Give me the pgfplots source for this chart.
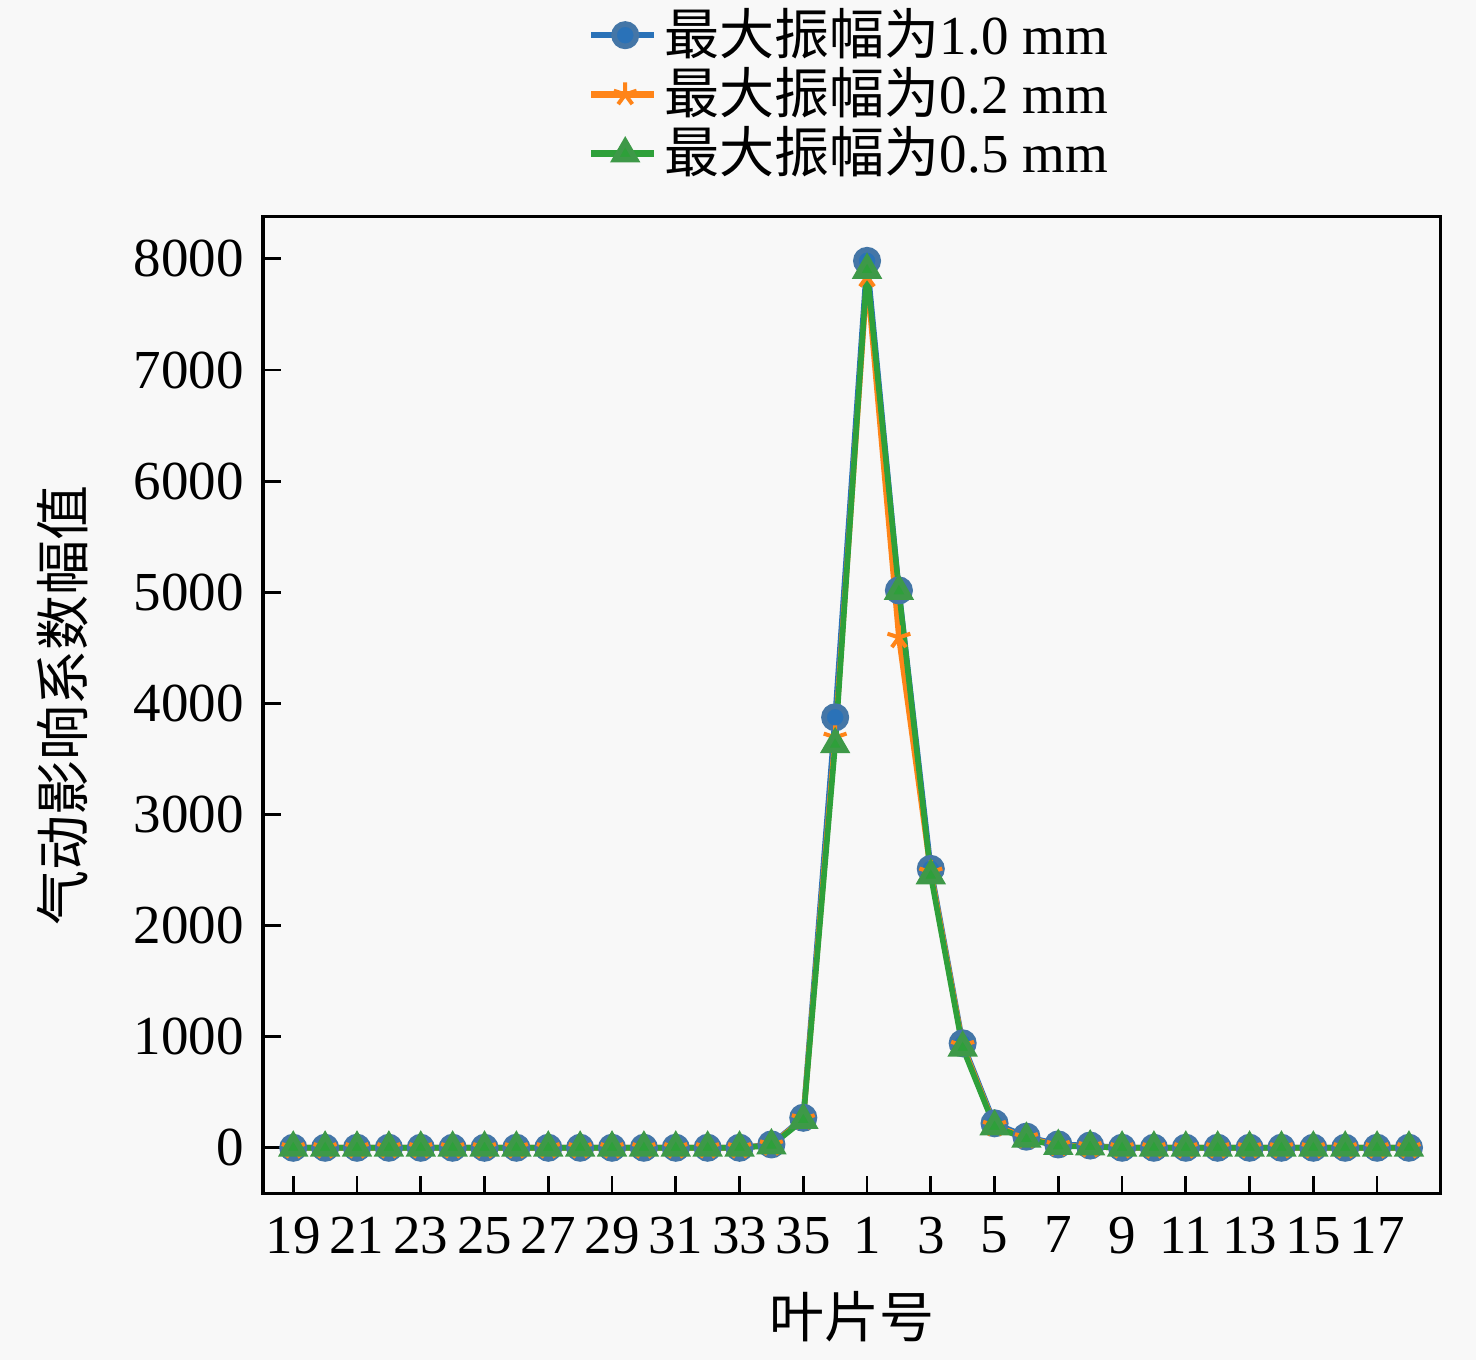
\documentclass[border=0pt]{standalone}
\usepackage{pgfplots}
\pgfplotsset{compat=1.18}
\usepackage{fontspec}
\setmainfont{Liberation Serif}
\newfontfamily\cjk{Noto Sans CJK SC}
\definecolor{bg}{HTML}{F8F8F8}
\definecolor{cblue}{HTML}{2A72B8}
\definecolor{corange}{HTML}{FF8418}
\definecolor{cgreen}{HTML}{2EA03A}
\pagecolor{bg}
\pgfplotstableread{
x blue orange green
0 0 0 0
1 0 0 0
2 0 0 0
3 0 0 0
4 0 0 0
5 0 0 0
6 0 0 0
7 0 0 0
8 0 0 0
9 0 0 0
10 0 0 0
11 0 0 0
12 0 0 0
13 0 0 0
14 0 0 0
15 30 25 20
16 270 260 250
17 3874 3694 3630
18 7982 7840 7900
19 5016 4593 5010
20 2510 2480 2450
21 940 920 900
22 220 200 190
23 100 90 80
24 30 20 15
25 20 10 10
26 0 0 0
27 0 0 0
28 0 0 0
29 0 0 0
30 0 0 0
31 0 0 0
32 0 0 0
33 0 0 0
34 0 0 0
35 0 0 0
}\data
\begin{document}
\fontsize{13.75}{16}\selectfont
\begin{tikzpicture}
\begin{axis}[
  name=ax,
  scale only axis,
  width=294.5pt, height=244.25pt,
  xmin=-0.95, xmax=36,
  ymin=-414, ymax=8378,
  axis line style={line width=0.8pt},
  xtick={0,2,...,34},
  xticklabels={19,21,23,25,27,29,31,33,35,1,3,5,7,9,11,13,15,17},
  ytick={0,1000,...,8000},
  scaled y ticks=false,
  /pgf/number format/assume math mode=true,
  /pgf/number format/fixed,
  /pgf/number format/1000 sep={},
  tick style={black, line width=0.7pt},
  major tick length=4.5pt,
  tick align=inside,
  xtick pos=bottom, ytick pos=left,
  tick label style={font=\fontsize{13.75}{16}\selectfont},
  xticklabel style={yshift=-1pt},
  yticklabel style={xshift=0pt},
  xlabel={\cjk 叶片号},
  ylabel={\cjk 气动影响系数幅值},
  label style={font=\fontsize{13.75}{16}\selectfont},
  xlabel style={yshift=0pt},
  ylabel style={yshift=2pt},
  legend style={at={(0.5,1.0)}, anchor=south, yshift=6.8pt, draw=none, fill=none,
    font=\fontsize{13.75}{15}\selectfont, row sep=-2.8pt, inner sep=0pt},
  legend cell align=left,
  legend image code/.code={
    \draw[#1, line width=1.6pt] (0cm,0cm) -- (0.55cm,0cm);
    \draw[#1, only marks] plot coordinates {(0.3cm,0cm)};
  },
  every axis plot/.append style={line width=1.4pt},
]
\addplot[cblue, mark=*, mark size=2.8pt, mark options={fill=cblue, draw=cblue!70!gray}] table[x=x,y=blue]{\data};
\addlegendentry{\cjk 最大振幅为\rmfamily 1.0 mm}
\addplot[corange, mark=star, mark size=3pt, mark options={line width=1pt}] table[x=x,y=orange]{\data};
\addlegendentry{\cjk 最大振幅为\rmfamily 0.2 mm}
\addplot[cgreen, mark=triangle*, mark size=3pt, mark options={fill=cgreen, draw=cgreen!80!gray}] table[x=x,y=green]{\data};
\addlegendentry{\cjk 最大振幅为\rmfamily 0.5 mm}
\end{axis}
\path (ax.south east) -- ++(8.8pt,0);
\path (ax.south west) -- ++(-65.75pt,0);
\end{tikzpicture}
\end{document}
